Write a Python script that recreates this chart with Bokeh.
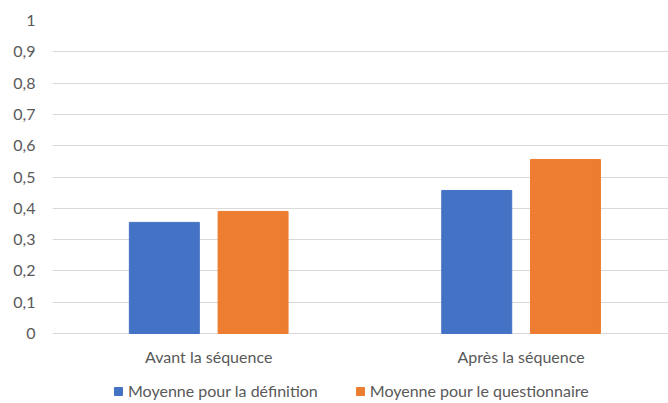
from bokeh.plotting import figure
from bokeh.models import (ColumnDataSource, Range1d, FixedTicker, CustomJSTickFormatter,
                          Legend, LegendItem)
from bokeh.core.properties import value
from bokeh.embed import file_html
from bokeh.resources import INLINE

categories = ["Avant la séquence", "Après la séquence"]
series_names = ["Moyenne pour la définition", "Moyenne pour le questionnaire"]
definition = [0.355, 0.457]
questionnaire = [0.39, 0.556]
y_ticks = [0, 0.1, 0.2, 0.3, 0.4, 0.5, 0.6, 0.7, 0.8, 0.9, 1]

BLUE = "#4472C4"
ORANGE = "#ED7D31"
GRID = "#D9D9D9"
TEXT = "#595959"
FONT = "Lato"

W, H = 668, 403
LEFT, TOP = 52, 20
PLOT_H = 313          # pixels from value 1 to value 0
CAT_W = 312.4         # pixels per category

centers = [i + 0.5 for i in range(len(categories))]
offset = 0.142
bar_w = 0.224

src = ColumnDataSource(dict(
    xb=[c - offset for c in centers],
    xo=[c + offset for c in centers],
    xc=centers,
    yc=[0] * len(categories),
    cat=categories,
    definition=definition,
    questionnaire=questionnaire,
))

frame_h = H - TOP
y_start = 1 - frame_h / PLOT_H

p = figure(width=W, height=H, output_backend="svg", toolbar_location=None,
           x_range=Range1d(0, (W - LEFT) / CAT_W), y_range=Range1d(y_start, 1),
           x_axis_location=None,
           min_border_left=LEFT, min_border_right=0, min_border_top=TOP,
           min_border_bottom=0)
p.outline_line_color = None
p.background_fill_color = "white"
p.border_fill_color = "white"

r1 = p.vbar(x="xb", top="definition", bottom=0, width=bar_w, source=src,
            fill_color=BLUE, line_color=BLUE)
r2 = p.vbar(x="xo", top="questionnaire", bottom=0, width=bar_w, source=src,
            fill_color=ORANGE, line_color=ORANGE)

p.text(x="xc", y="yc", text="cat", source=src, text_align="center",
       text_baseline="top", y_offset=13, text_font=value(FONT),
       text_font_size="16px", text_color=TEXT)

p.xgrid.grid_line_color = None
p.ygrid.grid_line_color = GRID
p.ygrid.grid_line_width = 1
p.ygrid.ticker = FixedTicker(ticks=y_ticks)

ya = p.yaxis[0]
ya.ticker = FixedTicker(ticks=y_ticks)
ya.formatter = CustomJSTickFormatter(code="""
    var s = (Math.round(tick*10)/10).toString();
    return s.replace('.', ',');
""")
ya.axis_line_color = None
ya.major_tick_line_color = None
ya.minor_tick_line_color = None
ya.major_label_standoff = 11
ya.major_label_text_font = FONT
ya.major_label_text_font_size = "16px"
ya.major_label_text_color = TEXT

legend = Legend(items=[LegendItem(label=series_names[0], renderers=[r1]),
                       LegendItem(label=series_names[1], renderers=[r2])],
                orientation="horizontal", location=(61, 3),
                glyph_width=10, glyph_height=10, label_height=16,
                label_standoff=5, spacing=37, padding=0, margin=0,
                border_line_color=None, background_fill_alpha=0,
                label_text_font=FONT, label_text_font_size="16px",
                label_text_color=TEXT)
p.add_layout(legend, "center")

open("out.html", "w").write(file_html(p, INLINE))
